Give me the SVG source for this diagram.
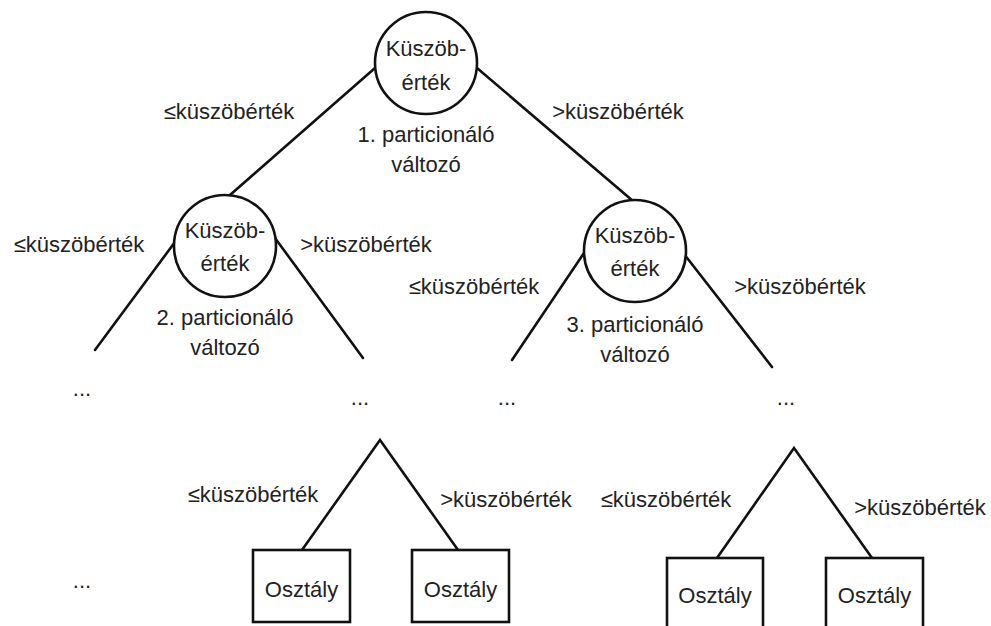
<svg xmlns="http://www.w3.org/2000/svg" width="991" height="626" viewBox="0 0 991 626">
<style>
  text { font-family: "Liberation Sans", Arial, sans-serif; font-size: 22px; fill: #222; text-anchor: middle; }
  .ln { stroke: #111; stroke-width: 2.6; fill: none; stroke-linecap: round; }
  .nd { stroke: #111; stroke-width: 2.6; fill: #fff; }
</style>
<rect width="991" height="626" fill="#fff"/>
<g id="connectors">
  <line class="ln" x1="375" y1="68" x2="230" y2="195"/>
  <line class="ln" x1="477" y1="68" x2="633" y2="201"/>
  <line class="ln" x1="175" y1="242" x2="95" y2="350"/>
  <line class="ln" x1="275" y1="238" x2="363" y2="358"/>
  <line class="ln" x1="586" y1="250" x2="512" y2="360"/>
  <line class="ln" x1="684" y1="254" x2="772" y2="367"/>
  <polyline class="ln" points="302,550 380,440 458,550"/>
  <polyline class="ln" points="717,558 794,448 872,558"/>
</g>
<g id="edge-labels">
  <text x="229" y="119">≤küszöbérték</text>
  <text x="618" y="119">&gt;küszöbérték</text>
  <text x="79" y="252">≤küszöbérték</text>
  <text x="366" y="252">&gt;küszöbérték</text>
  <text x="474" y="294">≤küszöbérték</text>
  <text x="800" y="294">&gt;küszöbérték</text>
  <text x="253" y="502">≤küszöbérték</text>
  <text x="506" y="507">&gt;küszöbérték</text>
  <text x="666" y="507">≤küszöbérték</text>
  <text x="920" y="515">&gt;küszöbérték</text>
</g>
<g id="node-1">
  <circle class="nd" cx="426" cy="63" r="51"/>
  <text x="426" y="56">Küszöb-</text>
  <text x="426" y="90">érték</text>
  <text x="426" y="142">1. particionáló</text>
  <text x="426" y="172">változó</text>
</g>
<g id="node-2">
  <circle class="nd" cx="225" cy="246" r="51"/>
  <text x="225" y="238">Küszöb-</text>
  <text x="225" y="271">érték</text>
  <text x="225" y="325">2. particionáló</text>
  <text x="225" y="355">változó</text>
</g>
<g id="node-3">
  <circle class="nd" cx="635" cy="251" r="51"/>
  <text x="635" y="243">Küszöb-</text>
  <text x="635" y="276">érték</text>
  <text x="635" y="332">3. particionáló</text>
  <text x="635" y="362">változó</text>
</g>
<g id="dots">
  <text x="82" y="396">...</text>
  <text x="360" y="405">...</text>
  <text x="507" y="405">...</text>
  <text x="786" y="405">...</text>
  <text x="82" y="588">...</text>
</g>
<g id="leaf-1">
  <rect class="nd" x="253" y="550" width="97" height="72"/>
  <text x="301.5" y="597">Osztály</text>
</g>
<g id="leaf-2">
  <rect class="nd" x="412" y="550" width="97" height="72"/>
  <text x="460.5" y="597">Osztály</text>
</g>
<g id="leaf-3">
  <rect class="nd" x="667" y="558" width="96" height="80"/>
  <text x="715" y="603">Osztály</text>
</g>
<g id="leaf-4">
  <rect class="nd" x="826" y="558" width="97" height="80"/>
  <text x="874.5" y="603">Osztály</text>
</g>
</svg>
